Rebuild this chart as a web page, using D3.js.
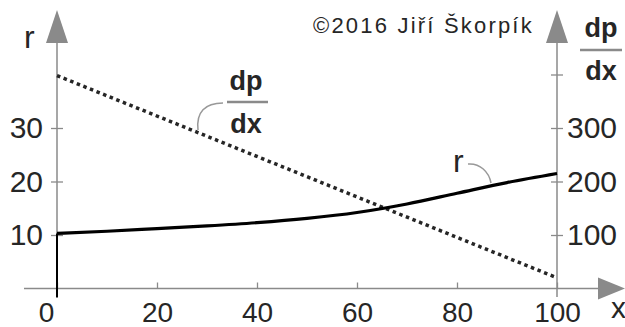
<!DOCTYPE html>
<html>
<head>
	<title>r and dp/dx</title>
	<script src="https://d3js.org/d3.v7.min.js"></script>
	<style>
		body { margin: 0; background: #fff; }
		text { font-family: "Liberation Sans", Arial, sans-serif; fill: #262626; }
	</style>
</head>
<body>
	<svg width="625" height="327"></svg>
	<script type="text/javascript">
		// values
		var xValues = [0, 10, 20, 30, 40, 50, 60, 70, 80, 90, 100];
		var rValues = [10.3, 10.7, 11.2, 11.7, 12.3, 13.1, 14.2, 15.8, 17.8, 19.8, 21.5];
		var dpxX = [0, 100];
		var dpxValues = [398, 20];
		var xTicks = [0, 20, 40, 60, 80, 100];
		var rTicks = [10, 20, 30];
		var dpxTicks = [100, 200, 300, 400];

		var svg = d3.select('svg');
		var grey = '#8a8a8a';

		var x = d3.scaleLinear().domain([0, 100]).range([57, 557]);
		var yL = d3.scaleLinear().domain([0, 40]).range([288.5, 74.5]);
		var yR = d3.scaleLinear().domain([0, 400]).range([288.5, 74.5]);

		// axis lines with arrow heads
		var axes = svg.append('g').attr('stroke', grey).attr('stroke-width', 1.5);
		axes.append('line').attr('x1', 24).attr('x2', 600).attr('y1', yL(0)).attr('y2', yL(0));
		axes.append('line').attr('x1', x(0)).attr('x2', x(0)).attr('y1', 297).attr('y2', 40);
		axes.append('line').attr('x1', x(100)).attr('x2', x(100)).attr('y1', 297).attr('y2', 40);
		var arrows = svg.append('g').attr('fill', grey);
		arrows.append('path').attr('d', 'M598,277.5L625,288.5L598,299.5Z');
		[x(0), x(100)].forEach(function (ax) {
			arrows.append('path').attr('d', 'M' + (ax - 11) + ',43L' + ax + ',10L' + (ax + 11) + ',43Z');
		});

		function styleAxis(g) {
			g.select('.domain').remove();
			g.selectAll('.tick line').attr('stroke', grey).attr('stroke-width', 1.3);
			g.selectAll('.tick text').attr('font-size', 30).attr('fill', '#262626')
				.attr('font-family', '"Liberation Sans", Arial, sans-serif');
		}

		svg.append('g')
			.attr('transform', 'translate(0,' + yL(0) + ')')
			.call(d3.axisBottom(x).tickValues(xTicks).tickSize(-6).tickPadding(14))
			.call(styleAxis)
			.selectAll('.tick text')
			.attr('font-size', 28)
			.attr('dx', function (d) { return d === 0 ? -11 : 0; });

		svg.append('g')
			.attr('transform', 'translate(' + x(0) + ',0)')
			.call(d3.axisLeft(yL).tickValues(rTicks).tickSize(6).tickPadding(8))
			.call(styleAxis)
			.selectAll('.tick line').attr('x1', 6);

		svg.append('g')
			.attr('transform', 'translate(' + x(100) + ',0)')
			.call(d3.axisRight(yR).tickValues(dpxTicks).tickSize(6).tickPadding(4)
				.tickFormat(function (d) { return d === 400 ? '' : d; }))
			.call(styleAxis)
			.selectAll('.tick line').attr('x1', -6);

		// dp/dx dotted line
		var dpxLine = d3.line().x(function (d, i) { return x(dpxX[i]); }).y(function (d) { return yR(d); });
		svg.append('path')
			.attr('d', dpxLine(dpxValues))
			.attr('fill', 'none')
			.attr('stroke', '#262626')
			.attr('stroke-width', 3.5)
			.attr('stroke-dasharray', '3.5,3.6');

		// r curve, with its rise from the x axis at x = 0
		svg.append('line')
			.attr('x1', x(0)).attr('x2', x(0))
			.attr('y1', yL(0) + 9).attr('y2', yL(rValues[0]))
			.attr('stroke', '#000').attr('stroke-width', 2);
		var rLine = d3.line().curve(d3.curveMonotoneX)
			.x(function (d, i) { return x(xValues[i]); }).y(function (d) { return yL(d); });
		svg.append('path')
			.attr('d', rLine(rValues))
			.attr('fill', 'none')
			.attr('stroke', '#000')
			.attr('stroke-width', 3.2);

		// labels
		svg.append('text').attr('x', 24).attr('y', 48).attr('font-size', 32).text('r');
		svg.append('text').attr('x', 611).attr('y', 318).attr('font-size', 30).text('x');
		svg.append('text').attr('x', 453).attr('y', 172).attr('font-size', 32).text('r');
		svg.append('text').attr('x', 313).attr('y', 33).attr('font-size', 22)
			.attr('letter-spacing', 2.2).text('©2016 Jiří Škorpík');

		function fraction(cx, top, barY, bottom, x1, x2) {
			var g = svg.append('g');
			g.append('text').attr('x', cx).attr('y', top).attr('text-anchor', 'middle')
				.attr('font-size', 27).attr('font-weight', 'bold').attr('fill', '#111').text('dp');
			g.append('line').attr('x1', x1).attr('x2', x2).attr('y1', barY).attr('y2', barY)
				.attr('stroke', grey).attr('stroke-width', 2.5);
			g.append('text').attr('x', cx).attr('y', bottom).attr('text-anchor', 'middle')
				.attr('font-size', 27).attr('font-weight', 'bold').attr('fill', '#111').text('dx');
		}
		fraction(246, 90, 102, 133, 227, 268);
		fraction(601, 37, 50, 80, 580, 622);

		// leaders
		var leaders = svg.append('g').attr('fill', 'none').attr('stroke', '#999').attr('stroke-width', 1.5);
		leaders.append('path').attr('d', 'M198,130C196,112 205,103 223,103');
		leaders.append('path').attr('d', 'M468,164C480,163 489,172 491,183');
	</script>
</body>
</html>
